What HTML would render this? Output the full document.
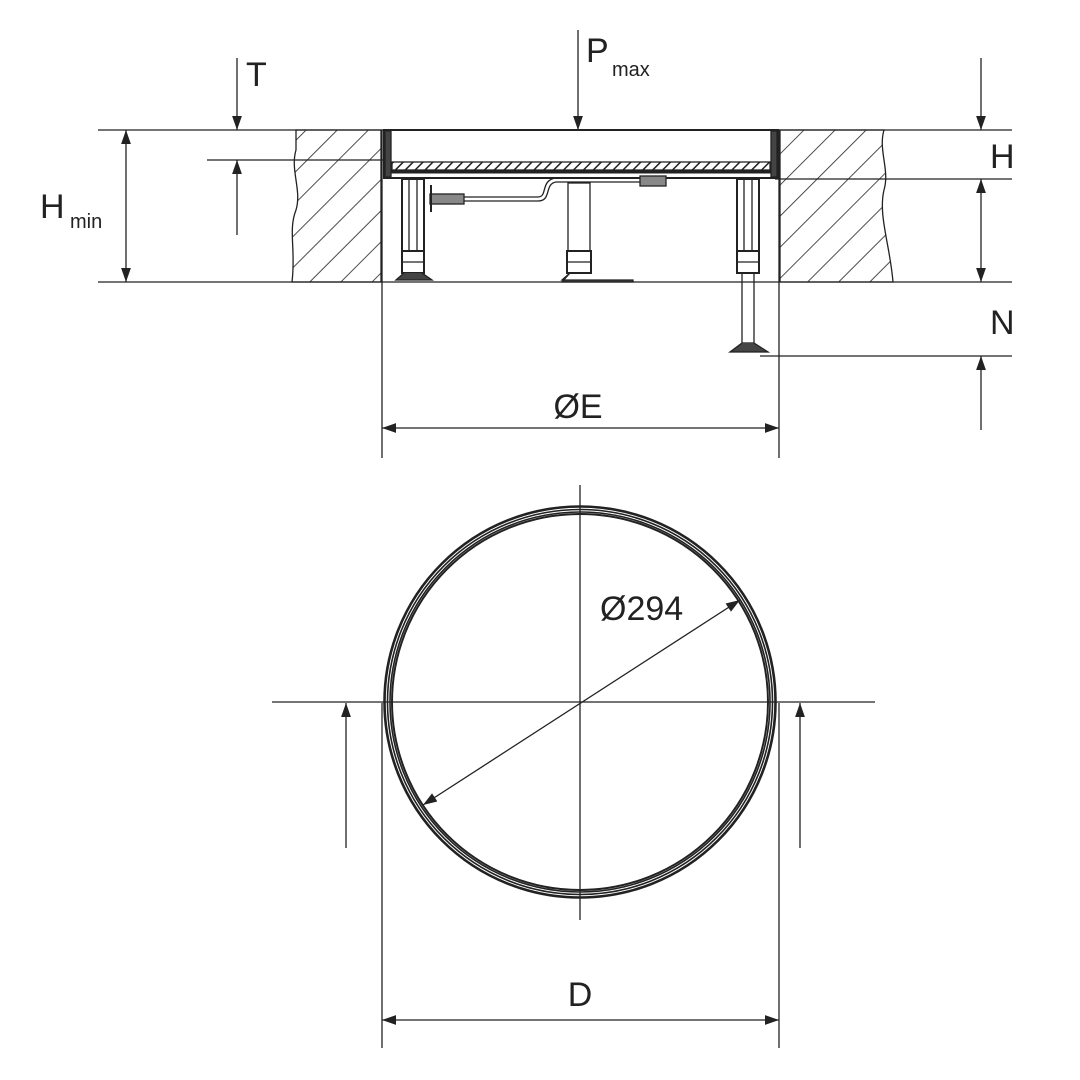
<!DOCTYPE html>
<html><head><style>html,body{margin:0;padding:0;background:#fff}svg{display:block}</style></head>
<body>
<svg width="1080" height="1080" viewBox="0 0 1080 1080" xmlns="http://www.w3.org/2000/svg" font-family="Liberation Sans, sans-serif">
<defs>
<pattern id="h" width="22" height="22" patternUnits="userSpaceOnUse" patternTransform="rotate(45)">
<rect width="22" height="22" fill="#fff"/><line x1="0" y1="0" x2="0" y2="22" stroke="#222" stroke-width="1.6"/></pattern>
<pattern id="hs" width="7" height="7" patternUnits="userSpaceOnUse" patternTransform="rotate(45)">
<rect width="7" height="7" fill="#fff"/><line x1="0" y1="0" x2="0" y2="7" stroke="#222" stroke-width="3"/></pattern>
<marker id="a" viewBox="0 0 10 10" refX="10" refY="5" markerWidth="14" markerHeight="14" markerUnits="userSpaceOnUse" orient="auto-start-reverse"><path d="M0,1.5 L10,5 L0,8.5z" fill="#222"/></marker>
</defs>
<g stroke="#222" stroke-width="1.3" fill="none">
<path d="M296,130 L381,130 L381,282 L292,282 C296,250 288,230 296,210 C302,190 290,170 296,150 Z" fill="url(#h)"/>
<path d="M780,130 L884,130 C878,150 890,170 884,190 C878,215 890,245 893,282 L780,282 Z" fill="url(#h)"/>
<line x1="98" y1="130" x2="1012" y2="130"/>
<line x1="98" y1="282" x2="1012" y2="282"/>
<line x1="207" y1="160" x2="383" y2="160"/>
<line x1="775" y1="179" x2="1012" y2="179"/>
<line x1="760" y1="356" x2="1012" y2="356"/>
<line x1="382" y1="130" x2="382" y2="458"/>
<line x1="779" y1="130" x2="779" y2="458"/>
<rect x="384" y="130" width="394" height="48" stroke-width="2"/>
<rect x="385" y="131" width="6" height="46" fill="#444"/>
<rect x="771" y="131" width="6" height="46" fill="#444"/>
<rect x="392" y="162" width="378" height="8" fill="url(#hs)"/>
<line x1="391" y1="172" x2="771" y2="172" stroke-width="3"/>
<rect x="402" y="179" width="22" height="72" stroke-width="2"/>
<line x1="409" y1="180" x2="409" y2="250"/><line x1="417" y1="180" x2="417" y2="250"/>
<rect x="402" y="251" width="22" height="22" stroke-width="2"/><line x1="402" y1="262" x2="424" y2="262"/>
<path d="M404,273 L396,280 L432,280 L422,273" fill="#444"/>
<rect x="568" y="183" width="22" height="68"/>
<rect x="567" y="251" width="24" height="22" stroke-width="2"/><line x1="567" y1="262" x2="591" y2="262"/>
<path d="M570,273 L562,280 L633,280 L633,282 L562,282 Z" fill="#444"/>
<rect x="737" y="179" width="22" height="72" stroke-width="2"/>
<line x1="744" y1="180" x2="744" y2="250"/><line x1="752" y1="180" x2="752" y2="250"/>
<rect x="737" y="251" width="22" height="22" stroke-width="2"/><line x1="737" y1="262" x2="759" y2="262"/>
<rect x="742" y="273" width="12" height="70"/>
<path d="M742,343 L730,352 L768,352 L754,343" fill="#444"/>
<rect x="430" y="194" width="34" height="10" fill="#888"/>
<line x1="431" y1="185" x2="431" y2="212" stroke-width="2"/>
<path d="M464,197 L538,197 C548,197 540,180 556,178 L640,178"/>
<path d="M464,201 L538,201 C552,201 544,184 556,182 L640,182"/>
<rect x="640" y="176" width="26" height="10" fill="#888"/>
<line x1="237" y1="58" x2="237" y2="130" marker-end="url(#a)"/>
<line x1="237" y1="235" x2="237" y2="160" marker-end="url(#a)"/>
<line x1="578" y1="30" x2="578" y2="130" marker-end="url(#a)"/>
<line x1="126" y1="130" x2="126" y2="282" marker-start="url(#a)" marker-end="url(#a)"/>
<line x1="981" y1="58" x2="981" y2="130" marker-end="url(#a)"/>
<line x1="981" y1="179" x2="981" y2="282" marker-start="url(#a)" marker-end="url(#a)"/>
<line x1="981" y1="430" x2="981" y2="356" marker-end="url(#a)"/>
<line x1="382" y1="428" x2="779" y2="428" marker-start="url(#a)" marker-end="url(#a)"/>
<line x1="272" y1="702" x2="875" y2="702"/>
<line x1="580" y1="485" x2="580" y2="920"/>
<circle cx="580" cy="702" r="195.5" stroke-width="2.6"/>
<circle cx="580" cy="702" r="192.5" stroke-width="1.6"/>
<circle cx="580" cy="702" r="190" stroke-width="1.6"/>
<circle cx="580" cy="702" r="188" stroke-width="2"/>
<line x1="423" y1="805" x2="740" y2="600" marker-start="url(#a)" marker-end="url(#a)"/>
<line x1="346" y1="848" x2="346" y2="703" marker-end="url(#a)"/>
<line x1="800" y1="848" x2="800" y2="703" marker-end="url(#a)"/>
<line x1="382" y1="703" x2="382" y2="1048"/>
<line x1="779" y1="703" x2="779" y2="1048"/>
<line x1="382" y1="1020" x2="779" y2="1020" marker-start="url(#a)" marker-end="url(#a)"/>
</g>
<g fill="#222" font-size="34">
<text x="246" y="86">T</text>
<text x="586" y="62">P</text><text x="612" y="76" font-size="20">max</text>
<text x="40" y="218">H</text><text x="70" y="228" font-size="20">min</text>
<text x="990" y="168">H</text>
<text x="990" y="334">N</text>
<text x="578" y="418" text-anchor="middle">ØE</text>
<text x="600" y="620">Ø294</text>
<text x="580" y="1006" text-anchor="middle">D</text>
</g>
</svg>
</body></html>
